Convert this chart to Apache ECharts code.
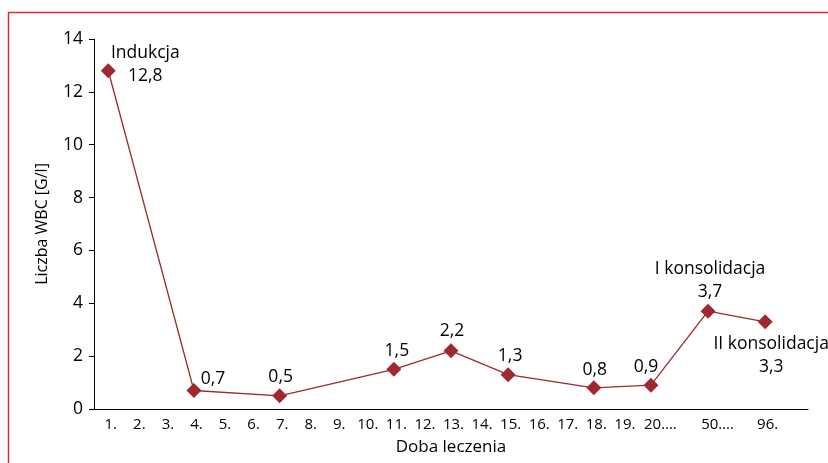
<!DOCTYPE html>
<html>
<head>
<meta charset="utf-8">
<script src="https://cdn.jsdelivr.net/npm/echarts@6/dist/echarts.min.js"></script>
<style>
  html, body { margin: 0; padding: 0; background: #fff; }
  #chart { width: 828px; height: 463px; }
</style>
</head>
<body>
<div id="chart"></div>
<script>
// Treatment day labels (blank slots keep the gaps after day 20 and day 50)
const dayLabels = ['1.', '2.', '3.', '4.', '5.', '6.', '7.', '8.', '9.', '10.',
  '11.', '12.', '13.', '14.', '15.', '16.', '17.', '18.', '19.', '20….',
  '', '50….', '', '96.', ''];

// WBC count [G/l] per slot; null where no measurement
const wbcValues = [12.8, null, null, 0.7, null, null, 0.5, null, null, null,
  1.5, null, 2.2, null, 1.3, null, null, 0.8, null, 0.9,
  null, 3.7, null, 3.3, null];

// Treatment phase names shown above the value
const phaseNames = { 0: 'Indukcja', 21: 'I konsolidacja', 23: 'II konsolidacja' };

// Label offsets from each marker centre
const labelOffsets = {
  0: [37, -6], 3: [19, -11], 6: [1, -19], 10: [3, -18], 12: [1, -20],
  14: [2, -19], 17: [1, -18], 19: [-5, -18], 21: [2, -31], 23: [6, 34]
};

const markColor = '#9e2a2f';
const textColor = '#000';
const fontFamily = '"Open Sans", "Noto Sans", sans-serif';

function fmt(v) { return String(v).replace('.', ','); }

const seriesData = wbcValues.map((v, i) => {
  if (v === null) return null;
  const text = phaseNames[i] ? phaseNames[i] + '\n' + fmt(v) : fmt(v);
  return {
    value: v,
    label: {
      show: true,
      position: 'inside',
      offset: labelOffsets[i] || [0, -18],
      formatter: text,
      color: textColor,
      fontSize: 17.5,
      lineHeight: 23,
      align: 'center',
      verticalAlign: 'middle',
      fontFamily: fontFamily
    }
  };
});

const chart = echarts.init(document.getElementById('chart'), null, { renderer: 'canvas' });

chart.setOption({
  backgroundColor: '#fff',
  animation: false,
  grid: { left: 94, right: 20, top: 39, bottom: 54 },
  graphic: [{
    type: 'polyline',
    silent: true,
    shape: { points: [[8.5, 463], [8.5, 12.5], [828, 12.5]] },
    style: { stroke: '#d8312d', lineWidth: 1.5, fill: null }
  }],
  xAxis: {
    type: 'category',
    data: dayLabels,
    boundaryGap: true,
    axisLine: { lineStyle: { color: '#000', width: 1 } },
    axisTick: { show: false },
    axisLabel: {
      interval: 0,
      margin: 8,
      color: textColor,
      fontSize: 15,
      fontFamily: fontFamily,
      padding: [0, 0, 0, 5],
      formatter: function (val) {
        if (val.indexOf('…') >= 0) return '{e|' + val + '}';
        return val;
      },
      rich: {
        e: { fontSize: 15, fontFamily: fontFamily, color: textColor, padding: [0, 0, 0, 14] }
      }
    },
    name: 'Doba leczenia',
    nameLocation: 'middle',
    nameGap: 30,
    nameTextStyle: { color: textColor, fontSize: 17, fontFamily: fontFamily }
  },
  yAxis: {
    type: 'value',
    min: 0,
    max: 14,
    interval: 2,
    splitLine: { show: false },
    axisLine: { show: true, lineStyle: { color: '#000', width: 1 } },
    axisTick: { show: true, length: 5, lineStyle: { color: '#000' } },
    axisLabel: { margin: 11, color: textColor, fontSize: 17.5, fontFamily: fontFamily },
    name: 'Liczba WBC [G/l]',
    nameLocation: 'middle',
    nameGap: 44,
    nameTextStyle: { color: textColor, fontSize: 16, fontFamily: fontFamily }
  },
  series: [{
    type: 'line',
    data: seriesData,
    connectNulls: true,
    symbol: 'diamond',
    symbolSize: 15,
    itemStyle: { color: markColor },
    lineStyle: { color: markColor, width: 1.3 }
  }]
});
</script>
</body>
</html>
